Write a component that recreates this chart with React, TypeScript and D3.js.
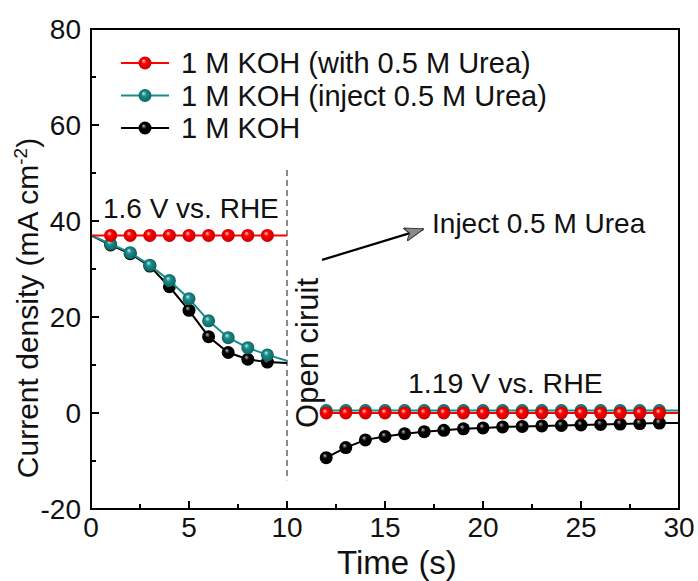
import React from "react";
import * as d3 from "d3";

const W = 698;
const H = 581;
const margin = { left: 91, right: 19, top: 29, bottom: 72 };

const xTicksMajor = [0, 5, 10, 15, 20, 25, 30];
const xTicksMinor = [2.5, 7.5, 12.5, 17.5, 22.5, 27.5];
const yTicksMajor = [-20, 0, 20, 40, 60, 80];
const yTicksMinor = [-10, 10, 30, 50, 70];

// Left segment (applied potential 1.6 V)
const timeLeft = [0, 1, 2, 3, 4, 5, 6, 7, 8, 9, 10];
const redLeft = [37, 37, 37, 37, 37, 37, 37, 37, 37, 37, 37];
const tealLeft = [37, 35.2, 33.4, 30.8, 27.6, 23.8, 19.2, 15.7, 13.6, 12.1, 10.9];
const blackLeft = [37, 35.0, 33.2, 30.6, 26.3, 21.4, 15.9, 12.6, 11.2, 10.6, 10.4];

// Right segment (1.19 V)
const timeRight = [12, 13, 14, 15, 16, 17, 18, 19, 20, 21, 22, 23, 24, 25, 26, 27, 28, 29, 30];
const redRight = [0, 0, 0, 0, 0, 0, 0, 0, 0, 0, 0, 0, 0, 0, 0, 0, 0, 0, 0];
const tealRight = [0.5, 0.5, 0.5, 0.5, 0.5, 0.5, 0.5, 0.5, 0.5, 0.5, 0.5, 0.5, 0.5, 0.5, 0.5, 0.5, 0.5, 0.5, 0.5];
const blackRight = [-9.3, -7.2, -5.6, -4.9, -4.3, -3.9, -3.6, -3.3, -3.1, -2.9, -2.8, -2.7, -2.6, -2.5, -2.4, -2.3, -2.2, -2.1, -2.1];

const noMarkerTimes = [0, 10, 30];

const seriesNames = ["1 M KOH (with 0.5 M Urea)", "1 M KOH (inject 0.5 M Urea)", "1 M KOH"];
const seriesColors = ["#ff0000", "#1a8c8c", "#000000"];
const seriesHighlight = ["#ffd0d0", "#bfeeee", "#bbbbbb"];
const seriesDark = ["#c00000", "#0c5e5e", "#000000"];

const FONT = "'Liberation Sans', Arial, Helvetica, sans-serif";

export default function App() {
  const x = d3.scaleLinear().domain([0, 30]).range([margin.left, W - margin.right]);
  const y = d3.scaleLinear().domain([-20, 80]).range([H - margin.bottom, margin.top]);

  const line = d3
    .line<[number, number]>()
    .x((d) => x(d[0]))
    .y((d) => y(d[1]));

  const segs = [
    [d3.zip(timeLeft, redLeft), d3.zip(timeRight, redRight)],
    [d3.zip(timeLeft, tealLeft), d3.zip(timeRight, tealRight)],
    [d3.zip(timeLeft, blackLeft), d3.zip(timeRight, blackRight)],
  ] as [number, number][][][];

  const drawOrder = [2, 1, 0];
  const R = 6.5;

  const x0 = x(0), x1 = x(30), yb = y(-20), yt = y(80);

  return (
    <svg width={W} height={H} style={{ position: "absolute", left: 0, top: 0, background: "#fff" }} fontFamily={FONT}>
      <defs>
        {seriesColors.map((c, i) => (
          <radialGradient key={i} id={`g${i}`} cx="0.5" cy="0.5" r="0.55" fx="0.38" fy="0.32">
            <stop offset="0" stopColor={seriesHighlight[i]} />
            <stop offset="0.35" stopColor={c} />
            <stop offset="1" stopColor={seriesDark[i]} />
          </radialGradient>
        ))}
        <marker id="arrowHead" viewBox="0 0 20 14" refX="19" refY="7" markerWidth="20" markerHeight="14" markerUnits="userSpaceOnUse" orient="auto">
          <path d="M0,0 L20,7 L0,14 L5,7 Z" fill="#8a8a8a" stroke="#333" strokeWidth="1" />
        </marker>
      </defs>
      <rect x={0} y={0} width={W} height={H} fill="#fff" />

      {/* dashed open-circuit line */}
      <line x1={x(10)} x2={x(10)} y1={y(50.6)} y2={y(-14)} stroke="#666" strokeWidth={1.5} strokeDasharray="6,4" />

      {/* series */}
      {drawOrder.map((si) => (
        <g key={si}>
          {segs[si].map((seg, k) => (
            <path key={k} d={line(seg) || ""} fill="none" stroke={seriesColors[si]} strokeWidth={2} />
          ))}
          {segs[si].map((seg, k) =>
            seg
              .filter((d) => !noMarkerTimes.includes(d[0]))
              .map((d, j) => (
                <circle key={`${k}-${j}`} cx={x(d[0])} cy={y(d[1])} r={R} fill={`url(#g${si})`} />
              ))
          )}
        </g>
      ))}

      {/* axes frame */}
      <rect x={x0} y={yt} width={x1 - x0} height={yb - yt} fill="none" stroke="#000" strokeWidth={2} />
      {xTicksMajor.map((t) => (
        <line key={`xM${t}`} x1={x(t)} x2={x(t)} y1={yb} y2={yb - 8} stroke="#000" strokeWidth={2} />
      ))}
      {xTicksMinor.map((t) => (
        <line key={`xm${t}`} x1={x(t)} x2={x(t)} y1={yb} y2={yb - 5} stroke="#000" strokeWidth={2} />
      ))}
      {yTicksMajor.map((t) => (
        <line key={`yM${t}`} x1={x0} x2={x0 + 8} y1={y(t)} y2={y(t)} stroke="#000" strokeWidth={2} />
      ))}
      {yTicksMinor.map((t) => (
        <line key={`ym${t}`} x1={x0} x2={x0 + 5} y1={y(t)} y2={y(t)} stroke="#000" strokeWidth={2} />
      ))}
      {xTicksMajor.map((t) => (
        <text key={`xl${t}`} x={x(t)} y={537} fontSize={28} textAnchor="middle" fill="#111">
          {t}
        </text>
      ))}
      {yTicksMajor.map((t) => (
        <text key={`yl${t}`} x={x0 - 10} y={y(t) + 10} fontSize={28} textAnchor="end" fill="#111">
          {t}
        </text>
      ))}

      {/* axis titles */}
      <text x={(x0 + x1) / 2 + 12} y={574} fontSize={33} textAnchor="middle" fill="#111">
        Time (s)
      </text>
      <text transform={`translate(38, 308) rotate(-90)`} fontSize={30} textAnchor="middle" fill="#111">
        Current density (mA cm
        <tspan dy={-11} fontSize={19}>-2</tspan>
        <tspan dy={11}>)</tspan>
      </text>

      {/* legend */}
      {seriesNames.map((n, i) => {
        const ly = 63 + i * 32.5;
        return (
          <g key={n}>
            <line x1={121} x2={169} y1={ly} y2={ly} stroke={seriesColors[i]} strokeWidth={2} />
            <circle cx={145} cy={ly} r={R} fill={`url(#g${i})`} />
            <text x={181} y={ly + 10} fontSize={29} fill="#111">
              {n}
            </text>
          </g>
        );
      })}

      {/* annotations */}
      <text x={x(0.61)} y={y(40.6)} fontSize={28} fill="#111">1.6 V vs. RHE</text>
      <text x={x(16.17)} y={y(4.2)} fontSize={28.5} fill="#111">1.19 V vs. RHE</text>
      <text x={x(17.4)} y={y(37.5)} fontSize={28} fill="#111">Inject 0.5 M Urea</text>
      <text transform={`translate(${x(11.58)}, ${y(-3.1)}) rotate(-90)`} fontSize={31} fill="#111">
        Open ciruit
      </text>
      <line x1={x(11.79)} y1={y(31.9)} x2={x(16.94)} y2={y(38.3)} stroke="#000" strokeWidth={2.2} markerEnd="url(#arrowHead)" />
    </svg>
  );
}
